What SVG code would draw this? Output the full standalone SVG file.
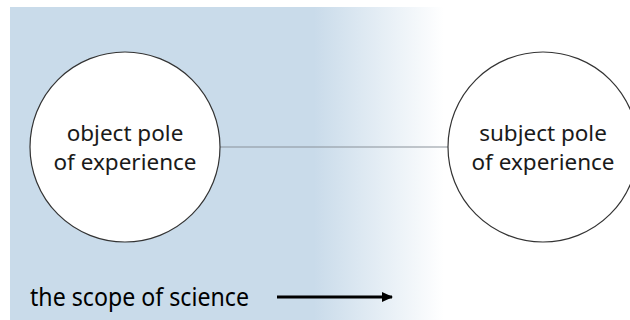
<svg xmlns="http://www.w3.org/2000/svg" width="630" height="320" viewBox="0 0 630 320">
<defs>
<linearGradient id="bg" gradientUnits="userSpaceOnUse" x1="10" y1="0" x2="630" y2="0">
<stop offset="0" stop-color="#c9dbea"/>
<stop offset="0.49" stop-color="#c9dbea"/>
<stop offset="0.7" stop-color="#ffffff"/>
<stop offset="1" stop-color="#ffffff"/>
</linearGradient>
<marker id="ah" markerWidth="11" markerHeight="10" refX="10" refY="5" orient="auto" markerUnits="userSpaceOnUse">
<path d="M0,0 L11,5 L0,10 Z" fill="#000"/>
</marker>
<style>
.node{fill:#fff;stroke:#333;stroke-width:1.2}
.lbl{font-family:"Noto Sans","Open Sans",sans-serif;font-size:22.5px;fill:#1a1a1a;text-anchor:middle}
.cap{font-family:"Noto Sans","Open Sans",sans-serif;font-size:24.5px;fill:#000}
</style>
</defs>
<rect x="10" y="7" width="620" height="313" fill="url(#bg)"/>
<g id="connectors">
<line x1="220" y1="147" x2="448" y2="147" stroke="#8a9299" stroke-width="1.2"/>
</g>
<g id="object-pole">
<circle class="node" cx="125" cy="147" r="95"/>
<text class="lbl" x="125" y="141">object pole</text>
<text class="lbl" x="125" y="170">of experience</text>
</g>
<g id="subject-pole">
<circle class="node" cx="543" cy="147" r="95"/>
<text class="lbl" x="543" y="141">subject pole</text>
<text class="lbl" x="543" y="170">of experience</text>
</g>
<g id="scope">
<text class="cap" x="30" y="306" textLength="219" lengthAdjust="spacingAndGlyphs">the scope of science</text>
<line x1="277" y1="297" x2="392" y2="297" stroke="#000" stroke-width="3" marker-end="url(#ah)"/>
</g>
</svg>
